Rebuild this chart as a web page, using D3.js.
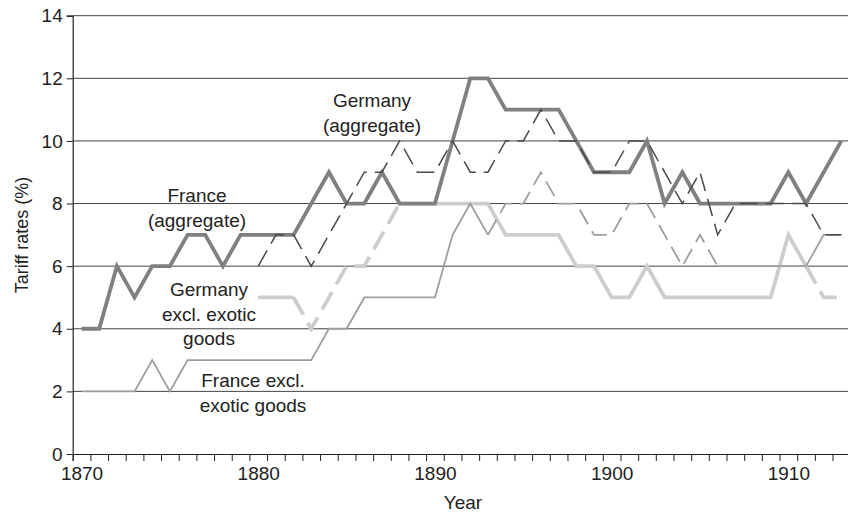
<!DOCTYPE html>
<html>
<head>
<meta charset="utf-8">
<script src="https://cdn.jsdelivr.net/npm/d3@7"></script>
<style>
  body { margin: 0; background: #fff; }
  text { font-family: "Liberation Sans", Arial, Helvetica, sans-serif; fill: #222; }
</style>
</head>
<body>
<div id="chart"></div>
<script>
var svgWidth = 848;
var svgHeight = 515;

var margin = { top: 15.7, right: 0, bottom: 61, left: 72.7 };
var width = 850.2 - margin.left;
var height = svgHeight - margin.top - margin.bottom;

// categories
var years = [1870, 1871, 1872, 1873, 1874, 1875, 1876, 1877, 1878, 1879,
  1880, 1881, 1882, 1883, 1884, 1885, 1886, 1887, 1888, 1889,
  1890, 1891, 1892, 1893, 1894, 1895, 1896, 1897, 1898, 1899,
  1900, 1901, 1902, 1903, 1904, 1905, 1906, 1907, 1908, 1909,
  1910, 1911, 1912, 1913];

var yearLabels = [1870, 1880, 1890, 1900, 1910];
var rateTicks = [0, 2, 4, 6, 8, 10, 12, 14];

// tariff rates (%), one value per year, null = no data
var franceAggregate = [4, 4, 6, 5, 6, 6, 7, 7, 6, 7,
  7, 7, 7, 8, 9, 8, 8, 9, 8, 8,
  8, 10, 12, 12, 11, 11, 11, 11, 10, 9,
  9, 9, 10, 8, 9, 8, 8, 8, 8, 8,
  9, 8, 9, 10];

var germanyAggregate = [null, null, null, null, null, null, null, null, null, null,
  6, 7, 7, 6, 7, 8, 9, 9, 10, 9,
  9, 10, 9, 9, 10, 10, 11, 10, 10, 9,
  9, 10, 10, 9, 8, 9, 7, 8, 8, 8,
  8, 8, 7, 7];

var franceExcl = [2, 2, 2, 2, 3, 2, 3, 3, 3, 3,
  3, 3, 3, 3, 4, 4, 5, 5, 5, 5,
  5, 7, 8, 7, 8, 8, 9, 8, 8, 7,
  7, 8, 8, 7, 6, 7, 6, 6, 6, 6,
  6, 6, 7, 7];

var germanyExcl = [null, null, null, null, null, null, null, null, null, null,
  5, 5, 5, 4, 5, 6, 6, 7, 8, 8,
  8, 8, 8, 8, 7, 7, 7, 7, 6, 6,
  5, 5, 6, 5, 5, 5, 5, 5, 5, 5,
  7, 6, 5, 5];

// year spans drawn dashed inside an otherwise solid line
var series = [
  { values: germanyExcl, color: "#cdcdcd", width: 3.8, dash: "20,9", dashedSpans: [[1882, 1888], [1911, 1913]] },
  { values: franceExcl, color: "#9e9e9e", width: 1.8, dash: "17,8", dashedSpans: [[1893, 1906]] },
  { values: franceAggregate, color: "#808080", width: 3.8, dash: null, dashedSpans: [] },
  { values: germanyAggregate, color: "#4a4a4a", width: 1.5, dash: "18,8", dashedSpans: [[1880, 1913]] }
];

var labels = [
  { x: 372, lines: ["Germany", "(aggregate)"], y: 107 },
  { x: 197, lines: ["France", "(aggregate)"], y: 202 },
  { x: 209, lines: ["Germany", "excl. exotic", "goods"], y: 296 },
  { x: 253, lines: ["France excl.", "exotic goods"], y: 387 }
];

var svg = d3.select("#chart")
  .append("svg")
  .attr("width", svgWidth)
  .attr("height", svgHeight);

var chartGroup = svg.append("g")
  .attr("transform", `translate(${margin.left}, ${margin.top})`);

var xScale = d3.scaleLinear()
  .domain([years[0] - 0.5, years[years.length - 1] + 0.5])
  .range([0, width]);

var yScale = d3.scaleLinear()
  .domain([0, 14])
  .range([height, 0]);

// gridlines
chartGroup.append("g")
  .selectAll("line")
  .data(rateTicks.filter(d => d > 0))
  .enter()
  .append("line")
  .attr("x1", 0)
  .attr("x2", width)
  .attr("y1", d => yScale(d))
  .attr("y2", d => yScale(d))
  .attr("stroke", "#444")
  .attr("stroke-width", 1);

// lines, split into solid / dashed pieces
var line = d3.line()
  .x(d => xScale(d.year))
  .y(d => yScale(d.value));

function isDashed(s, y0, y1) {
  return s.dashedSpans.some(sp => y0 >= sp[0] && y1 <= sp[1]);
}

series.forEach(function(s) {
  var pts = [];
  years.forEach(function(yr, i) {
    if (s.values[i] !== null) pts.push({ year: yr, value: s.values[i] });
  });
  var pieces = [];
  for (var i = 0; i < pts.length - 1; i++) {
    var dashed = isDashed(s, pts[i].year, pts[i + 1].year);
    var last = pieces[pieces.length - 1];
    if (last && last.dashed === dashed) {
      last.points.push(pts[i + 1]);
    } else {
      pieces.push({ dashed: dashed, points: [pts[i], pts[i + 1]] });
    }
  }
  pieces.forEach(function(p) {
    chartGroup.append("path")
      .datum(p.points)
      .attr("d", line)
      .attr("fill", "none")
      .attr("stroke", s.color)
      .attr("stroke-width", s.width)
      .attr("stroke-linejoin", "miter")
      .attr("stroke-dasharray", p.dashed ? s.dash : null);
  });
});

// axes
var leftAxis = d3.axisLeft(yScale)
  .tickValues(rateTicks)
  .tickSize(6)
  .tickPadding(4);

var yAxis = chartGroup.append("g").call(leftAxis);
yAxis.select(".domain").attr("stroke", "#222").attr("stroke-width", 1.2);
yAxis.selectAll(".tick line").attr("stroke", "#222");
yAxis.selectAll("text").attr("font-size", "19px").attr("fill", "#222");

var boundaries = years.map(d => d - 0.5).concat([years[years.length - 1] + 0.5]);

var tickAxis = chartGroup.append("g")
  .attr("transform", `translate(0, ${height})`)
  .call(d3.axisBottom(xScale).tickValues(boundaries).tickSize(7).tickFormat(""));
tickAxis.select(".domain").attr("stroke", "#222").attr("stroke-width", 1.2);
tickAxis.selectAll(".tick line").attr("stroke", "#222");

var labelAxis = chartGroup.append("g")
  .attr("transform", `translate(0, ${height})`)
  .call(d3.axisBottom(xScale).tickValues(yearLabels).tickSize(0).tickPadding(13).tickFormat(d3.format("d")));
labelAxis.select(".domain").remove();
labelAxis.selectAll("text").attr("font-size", "19px").attr("fill", "#222");

// axis titles
svg.append("text")
  .attr("x", 463)
  .attr("y", 509)
  .attr("text-anchor", "middle")
  .attr("font-size", "19px")
  .text("Year");

svg.append("text")
  .attr("transform", "translate(28, 235) rotate(-90)")
  .attr("text-anchor", "middle")
  .attr("font-size", "18px")
  .text("Tariff rates (%)");

// series labels
labels.forEach(function(l) {
  var t = svg.append("text")
    .attr("text-anchor", "middle")
    .attr("font-size", "19px");
  l.lines.forEach(function(str, i) {
    t.append("tspan")
      .attr("x", l.x)
      .attr("y", l.y + i * 24.5)
      .text(str);
  });
});
</script>
</body>
</html>
